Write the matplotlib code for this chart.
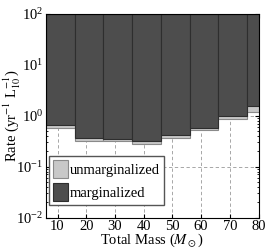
import numpy as np
import matplotlib
matplotlib.use('Agg')
import matplotlib.pyplot as plt

plt.rcParams['font.family'] = 'serif'
plt.rcParams['font.serif'] = ['Liberation Serif', 'DejaVu Serif']
plt.rcParams['mathtext.fontset'] = 'stix'
plt.rcParams['font.size'] = 10

# mass bins (left edges, width 10)
bin_left = np.array([6, 16, 26, 36, 46, 56, 66, 76])
bin_width = 10
# rate upper limits
rate_unmarg = np.array([0.585, 0.324, 0.315, 0.278, 0.371, 0.525, 0.88, 1.21])
rate_marg = np.array([0.67, 0.366, 0.355, 0.315, 0.413, 0.575, 0.99, 1.54])
y_top = 100.0

fig = plt.figure(figsize=(2.66, 2.49), dpi=100)
ax = fig.add_axes([0.173, 0.1265, 0.799, 0.8175])
ax.set_axisbelow(True)

ax.bar(bin_left, y_top - rate_unmarg, bottom=rate_unmarg, width=bin_width, align='edge',
       color='#c8c8c8', edgecolor='#8a8a8a', linewidth=0.8, label='unmarginalized')
ax.bar(bin_left, y_top - rate_marg, bottom=rate_marg, width=bin_width, align='edge',
       color='#4d4d4d', edgecolor='#2e2e2e', linewidth=0.8, label='marginalized')

ax.set_yscale('log')
ax.set_xlim(6, 80)
ax.set_ylim(1e-2, 1e2)
ax.set_xticks(np.arange(10, 81, 10))
ax.grid(True, which='major', linestyle=(0, (4, 3)), color='#999999', linewidth=0.6)
ax.tick_params(which='both', direction='in', top=True, right=True, labelsize=10.5)
ax.tick_params(which='major', length=3, pad=2)
ax.tick_params(which='minor', length=1.5)
ax.tick_params(axis='x', which='minor', bottom=False, top=False)

ax.set_xlabel(r'Total Mass ($M_\odot$)', fontsize=10.5, labelpad=-1)
ax.set_ylabel(r'Rate (yr$^{-1}$ L$_{10}^{-1}$)', fontsize=10.5)
ax.yaxis.set_label_coords(-0.11, 0.5)

ax.legend(loc='lower left', bbox_to_anchor=(0.0, 0.045), fancybox=False, edgecolor='#555555',
          framealpha=1, handlelength=1.0, handleheight=1.55, labelspacing=0.3,
          handletextpad=0.15, borderpad=0.3, borderaxespad=0.2, fontsize=10.5)

fig.savefig('out.png', dpi=100)
